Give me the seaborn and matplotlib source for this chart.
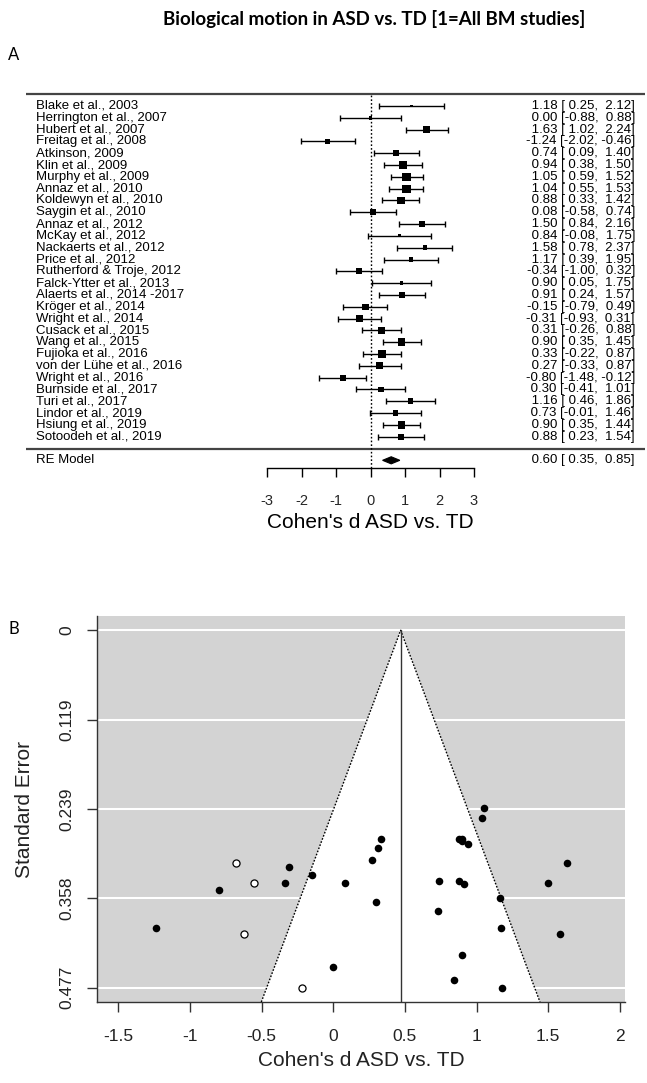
import numpy as np
import matplotlib
matplotlib.use("Agg")
import matplotlib.pyplot as plt
import seaborn as sns
from matplotlib.patches import Polygon

# ---------------- data ----------------
studies = ["Blake et al., 2003", "Herrington et al., 2007", "Hubert et al., 2007",
           "Freitag et al., 2008", "Atkinson, 2009", "Klin et al., 2009",
           "Murphy et al., 2009", "Annaz et al., 2010", "Koldewyn et al., 2010",
           "Saygin et al., 2010", "Annaz et al., 2012", "McKay et al., 2012",
           "Nackaerts et al., 2012", "Price et al., 2012", "Rutherford & Troje, 2012",
           "Falck-Ytter et al., 2013", "Alaerts et al., 2014 -2017", "Kröger et al., 2014",
           "Wright et al., 2014", "Cusack et al., 2015", "Wang et al., 2015",
           "Fujioka et al., 2016", "von der Lühe et al., 2016", "Wright et al., 2016",
           "Burnside et al., 2017", "Turi et al., 2017", "Lindor et al., 2019",
           "Hsiung et al., 2019", "Sotoodeh et al., 2019"]
es = [1.18, 0.00, 1.63, -1.24, 0.74, 0.94, 1.05, 1.04, 0.88, 0.08, 1.50, 0.84, 1.58,
      1.17, -0.34, 0.90, 0.91, -0.15, -0.31, 0.31, 0.90, 0.33, 0.27, -0.80, 0.30,
      1.16, 0.73, 0.90, 0.88]
lb = [0.25, -0.88, 1.02, -2.02, 0.09, 0.38, 0.59, 0.55, 0.33, -0.58, 0.84, -0.08, 0.78,
      0.39, -1.00, 0.05, 0.24, -0.79, -0.93, -0.26, 0.35, -0.22, -0.33, -1.48, -0.41,
      0.46, -0.01, 0.35, 0.23]
ub = [2.12, 0.88, 2.24, -0.46, 1.40, 1.50, 1.52, 1.53, 1.42, 0.74, 2.16, 1.75, 2.37,
      1.95, 0.32, 1.75, 1.57, 0.49, 0.31, 0.88, 1.45, 0.87, 0.87, -0.12, 1.01,
      1.86, 1.46, 1.44, 1.54]
re_label = "RE Model"
re_est, re_lb, re_ub = 0.60, 0.35, 0.85

forest_ticks = [-3, -2, -1, 0, 1, 2, 3]

# trim-and-fill imputed studies (open circles)
fill_es = [-0.68, -0.55, -0.62, -0.22]
fill_se = [0.311, 0.337, 0.406, 0.477]
funnel_center = 0.47
funnel_xticks = [-1.5, -1, -0.5, 0, 0.5, 1, 1.5, 2]
funnel_xticklabels = ["-1.5", "-1", "-0.5", "0", "0.5", "1", "1.5", "2"]
funnel_yticklabels = ["0", "0.119", "0.239", "0.358", "0.477"]

title = "Biological motion in ASD vs. TD [1=All BM studies]"
xlab = "Cohen's d ASD vs. TD"
ylab = "Standard Error"

# ---------------- setup ----------------
sns.set_theme(style="white")
plt.rcParams['font.family'] = ['Liberation Sans', 'DejaVu Sans']
plt.rcParams['axes.unicode_minus'] = False

W, H = 647, 1083
fig = plt.figure(figsize=(W / 100, H / 100), dpi=100)

def fy(px):
    return 1 - px / H

es_a = np.array(es); lb_a = np.array(lb); ub_a = np.array(ub)
se_a = (ub_a - lb_a) / 3.92
k = len(es)
rows = np.arange(k, 0, -1)

# weights for square sizes (DerSimonian-Laird random effects)
v = se_a ** 2
w = 1 / v
ybar = np.sum(w * es_a) / np.sum(w)
Q = np.sum(w * (es_a - ybar) ** 2)
C = np.sum(w) - np.sum(w ** 2) / np.sum(w)
tau2 = max(0.0, (Q - (k - 1)) / C)
wi = 1 / (v + tau2)
cex = 0.5 + (wi - wi.min()) / (wi.max() - wi.min())

# ---------------- forest plot ----------------
x0_px, unit_px = 370.5, 34.5
row_step = 11.811
row0_px = 448.5
def row_px(r):
    return row0_px - row_step * r

r_lo, r_hi = -2.6, 31.0
top_px, bot_px = row_px(r_hi), row_px(r_lo)
ax1 = fig.add_axes([0, fy(bot_px), 1, (bot_px - top_px) / H])
ax1.set_xlim(-x0_px / unit_px, (W - x0_px) / unit_px)
ax1.set_ylim(r_lo, r_hi)
ax1.set_facecolor('none')

line_l = (26 - x0_px) / unit_px
line_r = (645 - x0_px) / unit_px
ax1.plot([line_l, line_r], [k + 1, k + 1], color='#444444', lw=1.6, solid_capstyle='butt')
ax1.plot([line_l, line_r], [0, 0], color='#444444', lw=1.6, solid_capstyle='butt')

axis_row = -1.68
ax1.plot([0, 0], [axis_row, k + 1], color='black', lw=1.0, ls=(0, (1.2, 1.5)))

ax1.errorbar(es_a, rows, xerr=[es_a - lb_a, ub_a - es_a], fmt='none',
             ecolor='black', elinewidth=1.0, capsize=2.0, capthick=1.0)
sq = 17.0
sns.scatterplot(x=es_a, y=rows, size=cex ** 2, sizes=(sq * 0.25, sq * 2.25),
                marker='s', color='black', linewidth=0, legend=False, ax=ax1, zorder=5)

dh = 0.3
ax1.add_patch(Polygon([(re_lb, -1), (re_est, -1 + dh), (re_ub, -1), (re_est, -1 - dh)],
                      closed=True, facecolor='black', edgecolor='black', lw=0.8))

lab_x = (36 - x0_px) / unit_px
ann_x = (635 - x0_px) / unit_px
fs_f = 9.5
for r, name, e, l, u in zip(rows, studies, es, lb, ub):
    ax1.text(lab_x, r, name, ha='left', va='center', fontsize=fs_f, color='black')
    ax1.text(ann_x, r, f"{e:5.2f} [{l:5.2f}, {u:5.2f}]", ha='right', va='center',
             fontsize=fs_f, color='black')
ax1.text(lab_x, -1, re_label, ha='left', va='center', fontsize=fs_f, color='black')
ax1.text(ann_x, -1, f"{re_est:5.2f} [{re_lb:5.2f}, {re_ub:5.2f}]", ha='right',
         va='center', fontsize=fs_f, color='black')

for s in ['top', 'right', 'left']:
    ax1.spines[s].set_visible(False)
ax1.spines['bottom'].set_position(('data', axis_row))
ax1.spines['bottom'].set_bounds(forest_ticks[0], forest_ticks[-1])
ax1.spines['bottom'].set_color('black')
ax1.spines['bottom'].set_linewidth(1.0)
ax1.set_xticks(forest_ticks)
ax1.set_xticklabels([str(t) for t in forest_ticks])
ax1.set_yticks([])
ax1.tick_params(axis='x', direction='out', length=6.8, width=1.0, color='black',
                pad=12, labelsize=10.5, bottom=True)
fig.text(x0_px / W, fy(522), xlab, ha='center', va='center', fontsize=15, color='black')

# ---------------- funnel plot ----------------
ax_l, ax_r, ax_t, ax_b = 97, 625, 616, 1002
ax2 = fig.add_axes([ax_l / W, fy(ax_b), (ax_r - ax_l) / W, (ax_b - ax_t) / H])
ax2.set_facecolor('#D3D3D3')
xpx0, xunit = 333.3, 143.3
ax2.set_xlim((ax_l - xpx0) / xunit, (ax_r - xpx0) / xunit)
se_max = se_a.max()
yticks = np.linspace(0, se_max, 5)
ypad = 0.04 * se_max
ax2.set_ylim(se_max + ypad, -ypad)
se_bot = se_max + ypad

for yt in yticks:
    ax2.axhline(yt, color='white', lw=1.5, zorder=1)

c = funnel_center
ax2.add_patch(Polygon([(c - 1.96 * se_bot, se_bot), (c, 0), (c + 1.96 * se_bot, se_bot)],
                      closed=True, facecolor='white', edgecolor='none', zorder=2))
ax2.plot([c - 1.96 * se_bot, c, c + 1.96 * se_bot], [se_bot, 0, se_bot],
         color='black', lw=1.0, ls=(0, (1.2, 1.2)), zorder=3)
ax2.plot([c, c], [0, se_bot], color='#333333', lw=1.0, zorder=3)

sns.scatterplot(x=es_a, y=se_a, color='black', s=30, linewidth=0, ax=ax2,
                legend=False, zorder=5)
sns.scatterplot(x=fill_es, y=fill_se, color='white', edgecolor='black', s=26,
                linewidth=0.9, ax=ax2, legend=False, zorder=5)

for s in ['top', 'right']:
    ax2.spines[s].set_visible(False)
for s in ['left', 'bottom']:
    ax2.spines[s].set_color('#333333')
    ax2.spines[s].set_linewidth(1.0)
ax2.set_xticks(funnel_xticks)
ax2.set_xticklabels(funnel_xticklabels)
ax2.set_yticks(yticks)
ax2.set_yticklabels(funnel_yticklabels, rotation=90, va='center')
ax2.tick_params(axis='both', direction='out', length=7.2, width=1.0, color='#333333',
                labelsize=12.5, labelcolor='#222222', bottom=True, left=True)
ax2.tick_params(axis='x', pad=12)
ax2.tick_params(axis='y', pad=9)
ax2.set_xlabel("")
ax2.set_ylabel("")
ax2.grid(False)
fig.text((ax_l + ax_r) / 2 / W, fy(1061), xlab, ha='center', va='center', fontsize=15,
         color='#222222')
fig.text(25 / W, fy((ax_t + ax_b) / 2), ylab, ha='center', va='center', rotation=90,
         fontsize=15, color='#222222')

# ---------------- titles / panel letters ----------------
fig.text(374.5 / W, fy(19), title, ha='center', va='center', fontsize=13.5,
         fontweight='bold', family=['Lato', 'DejaVu Sans'], color='black')
fig.text(8 / W, fy(55), "A", ha='left', va='center', fontsize=12,
         family=['Lato', 'DejaVu Sans'], color='black')
fig.text(8 / W, fy(629), "B", ha='left', va='center', fontsize=12,
         family=['Lato', 'DejaVu Sans'], color='black')

fig.savefig("out.png", dpi=100)
